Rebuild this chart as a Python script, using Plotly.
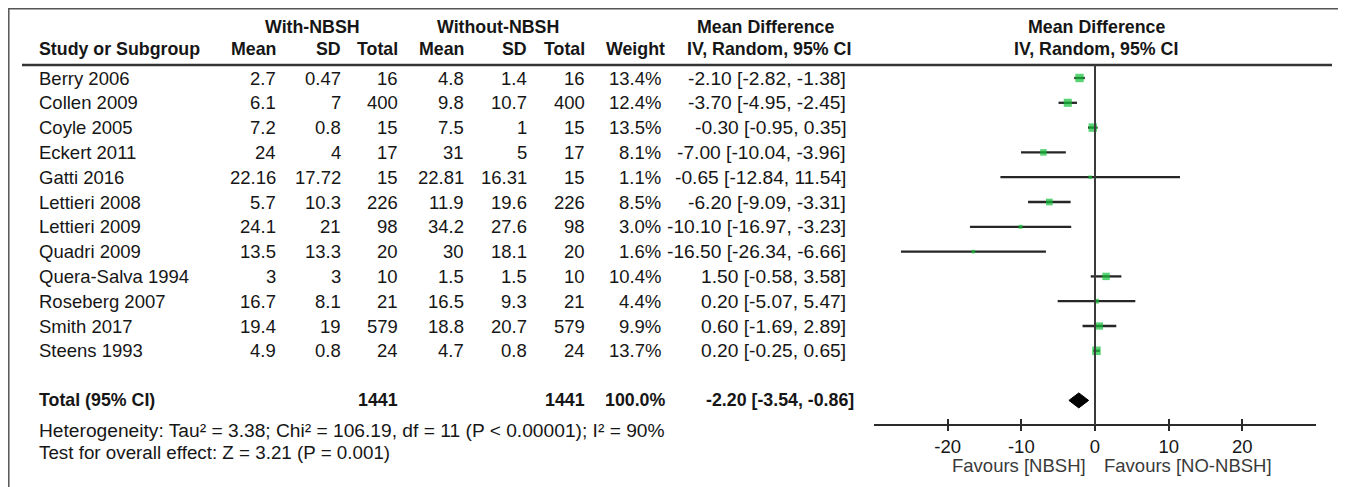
import plotly.graph_objects as go

# ---------------- data ----------------
studies = ["Berry 2006", "Collen 2009", "Coyle 2005", "Eckert 2011", "Gatti 2016",
           "Lettieri 2008", "Lettieri 2009", "Quadri 2009", "Quera-Salva 1994",
           "Roseberg 2007", "Smith 2017", "Steens 1993"]
with_mean = [2.7, 6.1, 7.2, 24, 22.16, 5.7, 24.1, 13.5, 3, 16.7, 19.4, 4.9]
with_sd = [0.47, 7, 0.8, 4, 17.72, 10.3, 21, 13.3, 3, 8.1, 19, 0.8]
with_n = [16, 400, 15, 17, 15, 226, 98, 20, 10, 21, 579, 24]
without_mean = [4.8, 9.8, 7.5, 31, 22.81, 11.9, 34.2, 30, 1.5, 16.5, 18.8, 4.7]
without_sd = [1.4, 10.7, 1, 5, 16.31, 19.6, 27.6, 18.1, 1.5, 9.3, 20.7, 0.8]
without_n = [16, 400, 15, 17, 15, 226, 98, 20, 10, 21, 579, 24]
weight = [13.4, 12.4, 13.5, 8.1, 1.1, 8.5, 3.0, 1.6, 10.4, 4.4, 9.9, 13.7]
md = [-2.10, -3.70, -0.30, -7.00, -0.65, -6.20, -10.10, -16.50, 1.50, 0.20, 0.60, 0.20]
ci_lo = [-2.82, -4.95, -0.95, -10.04, -12.84, -9.09, -16.97, -26.34, -0.58, -5.07, -1.69, -0.25]
ci_hi = [-1.38, -2.45, 0.35, -3.96, 11.54, -3.31, -3.23, -6.66, 3.58, 5.47, 2.89, 0.65]

total_with_n = 1441
total_without_n = 1441
total_weight = "100.0%"
total_md = -2.20
total_lo = -3.54
total_hi = -0.86

heterogeneity = "Heterogeneity: Tau² = 3.38; Chi² = 106.19, df = 11 (P < 0.00001); I² = 90%"
overall = "Test for overall effect: Z = 3.21 (P = 0.001)"
fav_left = "Favours [NBSH]"
fav_right = "Favours [NO-NBSH]"
tick_vals = [-20, -10, 0, 10, 20]
tick_text = ["-20", "-10", "0", "10", "20"]

# ---------------- layout helpers ----------------
# the page body has an 8px margin, so the figure starts at page pixel (8, 8)
OFF = 8
W, H = 1346 - OFF, 487 - OFF
ROW0_PX, ROW_STEP = 78.0, 24.8   # page pixels


def px_x(p):
    """page x pixel -> paper fraction"""
    return (p - OFF) / W


def row_of(py):
    """page y pixel -> row units"""
    return (py - ROW0_PX) / ROW_STEP


TXT = "#161616"
FONT = "Liberation Sans, Arial, sans-serif"
FS = 18.5
FSB = 17.8

fig = go.Figure()
ann = []


def add_text(text, xpx, row, anchor="right", bold=False, color=TXT, size=None):
    t = f"<b>{text}</b>" if bold else text
    if size is None:
        size = FSB if bold else FS
    ann.append(dict(text=t, x=px_x(xpx), xref="paper", y=row, yref="y",
                    xanchor=anchor, yanchor="middle", showarrow=False,
                    font=dict(family=FONT, size=size, color=color)))


# headers
r_grp = row_of(27)
r_col = row_of(49)
add_text("With-NBSH", 312, r_grp, "center", True)
add_text("Without-NBSH", 498, r_grp, "center", True)
add_text("Mean Difference", 765, r_grp, "center", True)
add_text("Mean Difference", 1096, r_grp, "center", True)
add_text("Study or Subgroup", 37, r_col, "left", True)
add_text("Mean", 278, r_col, "right", True)
add_text("SD", 343, r_col, "right", True)
add_text("Total", 400, r_col, "right", True)
add_text("Mean", 466, r_col, "right", True)
add_text("SD", 529, r_col, "right", True)
add_text("Total", 587, r_col, "right", True)
add_text("Weight", 667, r_col, "right", True)
add_text("IV, Random, 95% CI", 769, r_col, "center", True)
add_text("IV, Random, 95% CI", 1096, r_col, "center", True)

rows = list(range(len(studies)))
for i in rows:
    add_text(studies[i], 37, i, "left")
    add_text(f"{with_mean[i]:g}", 278, i)
    add_text(f"{with_sd[i]:g}", 343, i)
    add_text(f"{with_n[i]}", 400, i)
    add_text(f"{without_mean[i]:g}", 466, i)
    add_text(f"{without_sd[i]:g}", 529, i)
    add_text(f"{without_n[i]}", 587, i)
    add_text(f"{weight[i]:.1f}%", 663, i)
    add_text(f"{md[i]:.2f} [{ci_lo[i]:.2f}, {ci_hi[i]:.2f}]", 848, i, size=19.2)

r_tot = 13
add_text("Total (95% CI)", 37, r_tot, "left", True)
add_text(f"{total_with_n}", 400, r_tot, "right", True)
add_text(f"{total_without_n}", 587, r_tot, "right", True)
add_text(total_weight, 667, r_tot, "right", True)
add_text(f"{total_md:.2f} [{total_lo:.2f}, {total_hi:.2f}]", 856, r_tot, "right", True)
add_text(heterogeneity, 37, row_of(430), "left", size=19.2)
add_text(overall, 37, row_of(452), "left", size=18.8)

# favours labels (in data x units)
for txt, xv, anc in [(fav_left, -1.0, "right"), (fav_right, 1.0, "left")]:
    ann.append(dict(text=txt, x=xv, xref="x", y=row_of(465), yref="y",
                    xanchor=anc, yanchor="middle", showarrow=False,
                    font=dict(family=FONT, size=FS, color="#3a3a3a")))

# CI lines
for i in rows:
    fig.add_trace(go.Scatter(x=[ci_lo[i], ci_hi[i]], y=[i, i], mode="lines",
                             line=dict(color="#262626", width=2.3),
                             hoverinfo="skip", showlegend=False))
# squares
sizes = [max(3.5, 8.5 * (w / max(weight)) ** 0.5) for w in weight]
fig.add_trace(go.Scatter(x=md, y=rows, mode="markers",
                         marker=dict(symbol="square", size=sizes, color="#14c03a",
                                     line=dict(width=0)),
                         showlegend=False, hoverinfo="skip"))
# diamond
dh = 7.5 / ROW_STEP
fig.add_trace(go.Scatter(x=[total_lo, total_md, total_hi, total_md, total_lo],
                         y=[r_tot, r_tot - dh, r_tot, r_tot + dh, r_tot],
                         mode="lines", fill="toself", fillcolor="#000000",
                         line=dict(color="#000000", width=1),
                         showlegend=False, hoverinfo="skip"))

axis_py = 425
axis_pos = 1 - (axis_py - OFF) / H
x_dom = [px_x(874), px_x(1316)]

shapes = [
    # outer border
    dict(type="rect", xref="paper", yref="paper", x0=0.8 / W, x1=px_x(1343),
         y0=-0.05, y1=1 - 0.8 / H, line=dict(color="#555555", width=1.5)),
    # header rule
    dict(type="line", xref="paper", yref="y", x0=px_x(22), x1=px_x(1332),
         y0=row_of(65), y1=row_of(65), line=dict(color="#333333", width=2.5)),
    # zero line
    dict(type="line", xref="x", yref="y", x0=0, x1=0, y0=row_of(65),
         y1=row_of(axis_py), line=dict(color="#3a3a3a", width=2)),
]

fig.update_layout(
    width=W, height=H, margin=dict(l=0, r=0, t=0, b=0),
    paper_bgcolor="white", plot_bgcolor="rgba(0,0,0,0)",
    annotations=ann, shapes=shapes,
    xaxis=dict(domain=x_dom, range=[-30, 30], anchor="free", position=axis_pos,
               showline=True, linecolor="#2b2b2b", linewidth=2,
               ticks="outside", ticklen=5, tickwidth=2, tickcolor="#2b2b2b",
               tickvals=tick_vals, ticktext=tick_text, showgrid=False, zeroline=False,
               tickfont=dict(family=FONT, size=FS, color=TXT)),
    xaxis2=dict(domain=x_dom, range=[-30, 30], anchor="free", position=axis_pos,
                overlaying="x", matches="x", showline=False,
                ticks="inside", ticklen=6, tickwidth=2, tickcolor="#2b2b2b",
                tickvals=tick_vals, showticklabels=False, showgrid=False,
                zeroline=False),
    yaxis=dict(domain=[0, 1], range=[row_of(OFF + H), row_of(OFF)], visible=False,
               showgrid=False, zeroline=False),
)
# invisible trace to activate xaxis2
fig.add_trace(go.Scatter(x=[0], y=[0], xaxis="x2", yaxis="y", mode="markers",
                         marker=dict(opacity=0), showlegend=False, hoverinfo="skip"))

fig.write_html("out.html")
